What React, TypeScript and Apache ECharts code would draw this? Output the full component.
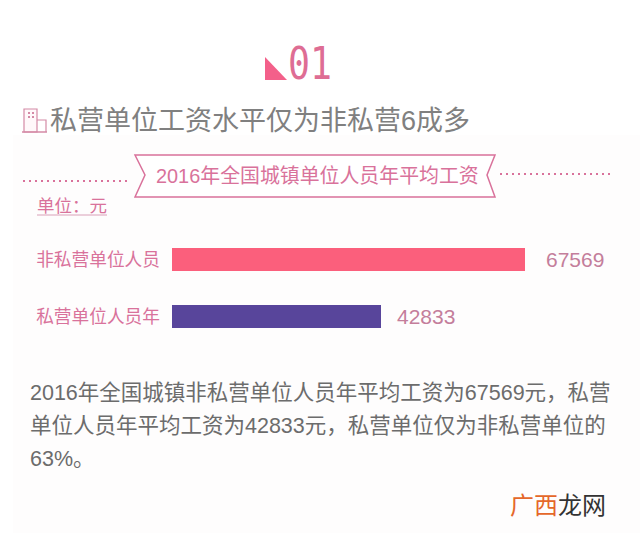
import React, { useEffect, useRef } from "react";
import * as echarts from "echarts";

const categories = ["非私营单位人员", "私营单位人员年"];
const salaries = [67569, 42833];
const headline = "私营单位工资水平仅为非私营6成多";
const ribbonTitle = "2016年全国城镇单位人员年平均工资";
const unitLabel = "单位：元";
const sectionNumber = "01";
const paragraph = [
  "2016年全国城镇非私营单位人员年平均工资为67569元，私营",
  "单位人员年平均工资为42833元，私营单位仅为非私营单位的",
  "63%。",
];

const CJK = '"Liberation Sans", "Noto Sans CJK SC", sans-serif';
const PINK = "#d9729b";
const ICON = "#d48aa6";
const barColors = ["#fb5f7c", "#58459b"];
const labelGaps = [21, 16];
const windowRows = [112, 116];
const windowCols = [28, 32];

export default function App() {
  const ref = useRef<HTMLDivElement>(null);
  useEffect(() => {
    document.body.style.margin = "0";
    const chart = echarts.init(ref.current!, null, { renderer: "svg" });
    const windows = windowRows.flatMap((y) =>
      windowCols.map((x) => ({
        type: "rect",
        shape: { x, y, width: 2, height: 2 },
        style: { fill: ICON },
      }))
    );
    chart.setOption({
      animation: false,
      backgroundColor: "#ffffff",
      grid: { left: 172, width: 353, top: 231, height: 114, containLabel: false },
      xAxis: { type: "value", min: 6930, max: 67569, show: false },
      yAxis: {
        type: "category",
        inverse: true,
        data: categories,
        axisLine: { show: false },
        axisTick: { show: false },
        axisLabel: { margin: 12, fontSize: 17.7, color: PINK, fontFamily: CJK },
      },
      series: [
        {
          type: "bar",
          barWidth: 23,
          data: salaries.map((value, i) => ({
            value,
            itemStyle: { color: barColors[i] },
            label: { distance: labelGaps[i] },
          })),
          label: { show: true, position: "right", fontSize: 21, color: "#c47e9b", fontFamily: CJK },
        },
      ],
      graphic: [
        { type: "rect", z: -1, shape: { x: 13, y: 135, width: 627, height: 398 }, style: { fill: "#fefdfd" } },
        { type: "polygon", shape: { points: [[265, 57], [265, 80], [287, 80]] }, style: { fill: "#f3608a" } },
        { type: "text", x: 288, y: 42, scaleX: 0.83, style: { text: sectionNumber, fontFamily: '"DejaVu Sans Mono", monospace', fontSize: 44, fill: "#de6d94" } },
        { type: "rect", shape: { x: 24, y: 109, width: 13, height: 23 }, style: { fill: "#fff8fa", stroke: ICON, lineWidth: 1.2 } },
        { type: "polyline", shape: { points: [[37, 120], [46, 120], [46, 132]] }, style: { fill: "none", stroke: ICON, lineWidth: 1.2 } },
        { type: "line", shape: { x1: 22, y1: 132, x2: 47, y2: 132 }, style: { stroke: ICON, lineWidth: 1.5 } },
        ...windows,
        { type: "text", x: 50, y: 107, style: { text: headline, fontFamily: CJK, fontSize: 27, fill: "#808080" } },
        { type: "polygon", shape: { points: [[135, 155], [495, 155], [487, 175], [495, 197], [135, 197], [145, 175]] }, style: { fill: "#ffffff", stroke: PINK, lineWidth: 1.5 } },
        { type: "text", x: 156, y: 166, style: { text: ribbonTitle, fontFamily: CJK, fontSize: 19.9, fill: PINK } },
        { type: "line", shape: { x1: 23, y1: 181, x2: 127, y2: 181 }, style: { stroke: PINK, lineWidth: 2, lineDash: [2, 4] } },
        { type: "line", shape: { x1: 500, y1: 174, x2: 613, y2: 174 }, style: { stroke: PINK, lineWidth: 2, lineDash: [2, 4] } },
        { type: "text", x: 37, y: 197, style: { text: unitLabel, fontFamily: CJK, fontSize: 17.5, fill: PINK } },
        { type: "line", shape: { x1: 37, y1: 215, x2: 107, y2: 215 }, style: { stroke: "#d9a0b8", lineWidth: 1 } },
        ...paragraph.map((text, i) => ({
          type: "text", x: 30, y: 382 + i * 33,
          style: { text, fontFamily: CJK, fontSize: 21.5, fill: "#6c6c6c" },
        })),
        { type: "text", x: 510, y: 493, style: { text: "广西", fontFamily: CJK, fontSize: 24, fill: "#e5672a" } },
        { type: "text", x: 558, y: 493, style: { text: "龙网", fontFamily: CJK, fontSize: 24, fill: "#333333" } },
      ],
    });
    return () => chart.dispose();
  }, []);
  return <div ref={ref} style={{ width: 640, height: 535 }} />;
}
